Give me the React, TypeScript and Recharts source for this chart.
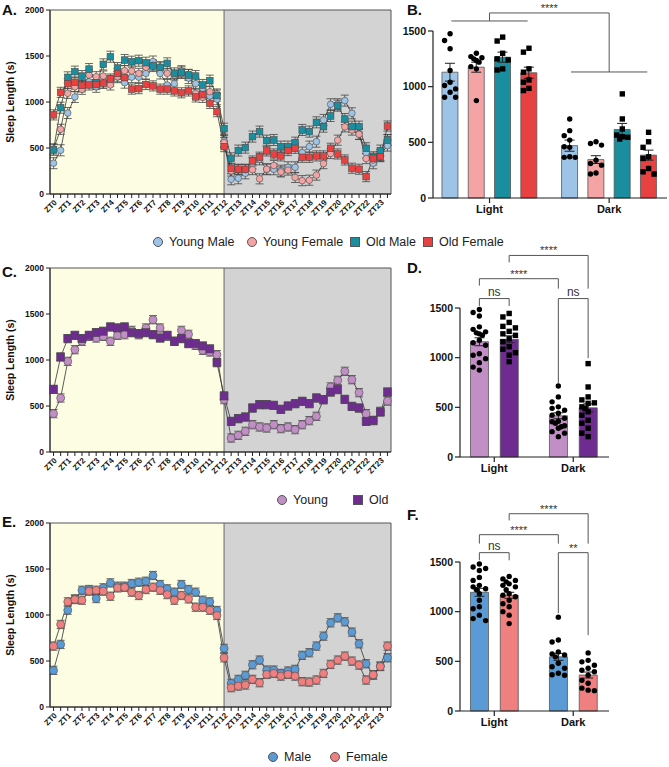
import React from 'react';
import {
  ComposedChart,
  Line,
  Bar,
  Scatter,
  Cell,
  XAxis,
  YAxis,
  ErrorBar,
  ReferenceArea,
  ReferenceLine,
} from 'recharts';

type Kind = 'circle' | 'square';

// ---- time axis (half-hour bins) ----
const ztLabels = [
  'ZT0', 'ZT1', 'ZT2', 'ZT3', 'ZT4', 'ZT5', 'ZT6', 'ZT7', 'ZT8', 'ZT9', 'ZT10', 'ZT11',
  'ZT12', 'ZT13', 'ZT14', 'ZT15', 'ZT16', 'ZT17', 'ZT18', 'ZT19', 'ZT20', 'ZT21', 'ZT22', 'ZT23',
];
const ztHours = [
  0, 0.5, 1, 1.5, 2, 2.5, 3, 3.5, 4, 4.5, 5, 5.5, 6, 6.5, 7, 7.5, 8, 8.5, 9, 9.5, 10, 10.5, 11, 11.5,
  12, 12.5, 13, 13.5, 14, 14.5, 15, 15.5, 16, 16.5, 17, 17.5, 18, 18.5, 19, 19.5, 20, 20.5, 21, 21.5,
  22, 22.5, 23, 23.5,
];
const phaseLabels = ['Light', 'Dark'];

// ---- panel A: sleep length per bin (s) ----
const youngMaleA = [
  335, 475, 880, 1055, 1170, 1220, 1165, 1210, 1230, 1270, 1210, 1270, 1270, 1310, 1440, 1310, 1185, 1200, 1335, 1260, 1200, 1150, 1065, 1030,
  577, 160, 171, 225, 334, 377, 269, 269, 254, 290, 290, 450, 515, 569, 805, 975, 975, 1015, 877, 653, 450, 334, 425, 526,
];
const youngFemaleA = [
  490, 703, 1094, 1166, 1138, 1293, 1275, 1282, 1185, 1275, 1340, 1337, 1311, 1376, 1400, 1380, 1311, 1293, 1311, 1300, 1094, 1050, 1112, 1087,
  560, 250, 265, 265, 265, 165, 270, 310, 240, 260, 180, 145, 150, 205, 330, 440, 585, 730, 695, 650, 385, 370, 410, 590,
];
const oldMaleA = [
  480, 938, 1268, 1330, 1282, 1358, 1210, 1409, 1492, 1369, 1456, 1438, 1449, 1427, 1391, 1376, 1420, 1311, 1322, 1293, 1282, 1185, 1232, 1070,
  710, 388, 472, 504, 624, 678, 580, 587, 515, 515, 558, 696, 678, 779, 732, 848, 960, 815, 732, 732, 497, 399, 472, 587,
];
const oldFemaleA = [
  860, 1105, 1200, 1215, 1180, 1185, 1190, 1205, 1250, 1310, 1265, 1140, 1145, 1190, 1175, 1140, 1140, 1120, 1100, 1120, 1055, 1080, 985, 895,
  515, 280, 269, 269, 359, 400, 468, 435, 414, 472, 497, 399, 399, 414, 414, 497, 435, 370, 280, 269, 189, 388, 406, 739,
];

// ---- panel C ----
const youngC = [
  417, 587, 985, 1112, 1203, 1257, 1239, 1257, 1203, 1268, 1275, 1322, 1275, 1348, 1438, 1348, 1257, 1203, 1322, 1279, 1159, 1105, 1087, 1058,
  569, 152, 181, 225, 297, 272, 261, 297, 254, 272, 243, 297, 341, 388, 569, 707, 779, 877, 786, 645, 417, 341, 442, 554,
];
const oldC = [
  681, 1033, 1232, 1268, 1232, 1268, 1297, 1312, 1359, 1348, 1359, 1297, 1286, 1297, 1275, 1239, 1268, 1203, 1232, 1178, 1178, 1152, 1120, 971,
  609, 333, 362, 380, 478, 514, 514, 507, 464, 500, 525, 551, 525, 587, 569, 652, 678, 572, 496, 478, 333, 344, 435, 652,
];

// ---- panel E ----
const maleE = [
  398, 680, 1052, 1175, 1269, 1277, 1179, 1295, 1349, 1313, 1313, 1342, 1356, 1367, 1429, 1331, 1284, 1248, 1331, 1277, 1248, 1161, 1143, 1049,
  637, 257, 300, 344, 459, 510, 401, 401, 365, 391, 409, 561, 590, 662, 770, 915, 969, 926, 814, 687, 470, 347, 445, 535,
];
const femaleE = [
  662, 897, 1143, 1168, 1161, 1259, 1269, 1259, 1204, 1295, 1300, 1248, 1212, 1277, 1302, 1269, 1222, 1161, 1212, 1175, 1085, 1085, 1052, 995,
  535, 210, 228, 239, 300, 264, 354, 365, 336, 354, 336, 275, 271, 293, 365, 463, 510, 553, 499, 456, 293, 350, 440, 662,
];

// ---- panel B: phase totals ----
const bMeansLight = [1130, 1175, 1265, 1125];
const bMeansDark = [470, 345, 615, 385];
const bSemLight = [80, 45, 45, 50];
const bSemDark = [50, 35, 55, 45];
const bDotsLight = [
  [1475, 1415, 1340, 1145, 1040, 1010, 980, 950, 905, 905],
  [1300, 1270, 1260, 1250, 1235, 1220, 1180, 1160, 875],
  [1445, 1410, 1300, 1250, 1240, 1160, 1150],
  [1345, 1310, 1160, 1130, 1060, 1040, 985, 965],
];
const bDotsDark = [
  [710, 605, 560, 520, 460, 455, 370, 365, 365],
  [505, 490, 475, 340, 310, 295, 225, 215],
  [935, 710, 620, 565, 550, 545, 530],
  [590, 505, 455, 370, 355, 265, 235, 215],
];

// ---- panel D ----
const dMeans = [1160, 1185, 415, 495];
const dSem = [40, 35, 30, 40];
const dDots = [
  [1485, 1455, 1420, 1310, 1285, 1260, 1250, 1240, 1225, 1175, 1150, 1125, 1040, 1025, 990, 950, 905, 875],
  [1445, 1410, 1355, 1315, 1300, 1265, 1240, 1225, 1190, 1160, 1110, 1085, 1050, 1025, 960],
  [715, 605, 555, 505, 490, 470, 440, 420, 390, 360, 355, 340, 315, 305, 290, 255, 240, 205],
  [940, 705, 605, 575, 545, 540, 505, 490, 455, 420, 370, 340, 290, 240, 205],
];

// ---- panel F ----
const fMeans = [1195, 1165, 545, 362];
const fSem = [40, 30, 35, 30];
const fDots = [
  [1480, 1450, 1435, 1415, 1345, 1315, 1265, 1250, 1230, 1220, 1180, 1115, 1050, 1030, 965, 930, 910],
  [1355, 1330, 1315, 1300, 1280, 1265, 1250, 1220, 1180, 1165, 1150, 1115, 1080, 1050, 1000, 965, 880],
  [945, 715, 695, 595, 575, 565, 545, 480, 445, 430, 380, 365, 360],
  [585, 510, 495, 460, 430, 410, 395, 360, 310, 280, 230, 210, 205],
];

const C = {
  youngMale: '#9dc3e6',
  youngFemale: '#f4a4a4',
  oldMale: '#1a8e9f',
  oldFemale: '#e84141',
  young: '#c28ec6',
  old: '#6e2c91',
  male: '#5b9bd5',
  female: '#f07f7f',
};

const FONT = '"Liberation Sans", Arial, Helvetica, sans-serif';

type Series = { key: string; values: number[]; color: string; kind: Kind; sem: number };

const marker = (color: string, kind: Kind, r: number) => (props: any) => {
  const { cx, cy, index } = props;
  if (cx == null || cy == null) return <g key={`m-${index}`} />;
  if (kind === 'circle') {
    return <circle key={`m-${index}`} cx={cx} cy={cy} r={r} fill={color} stroke="#4a4a4a" strokeWidth={0.6} />;
  }
  return (
    <rect key={`m-${index}`} x={cx - r} y={cy - r} width={2 * r} height={2 * r} fill={color} stroke="#4a4a4a" strokeWidth={0.6} />
  );
};

const renderZtTick = (props: any) => {
  const { x, y, payload } = props;
  const h = Number(payload.value);
  if (!Number.isInteger(h)) return <g />;
  const ax = x + 2;
  const ay = y + 1;
  return (
    <text
      x={ax}
      y={ay}
      transform={`rotate(-45 ${ax} ${ay})`}
      textAnchor="end"
      dy="0.35em"
      fontSize={8}
      fontWeight={700}
      fill="#111"
    >
      {ztLabels[h]}
    </text>
  );
};

function TimeCourse({ series, r }: { series: Series[]; r: number }) {
  const rows = ztHours.map((h, i) => {
    const row: Record<string, number> = { h };
    series.forEach(s => {
      row[s.key] = s.values[i];
      row[`${s.key}Err`] = s.sem;
    });
    return row;
  });
  return (
    <ComposedChart width={400} height={230} data={rows} margin={{ top: 10, right: 9, bottom: 6, left: 4 }}>
      <ReferenceArea x1={-0.25} x2={12} y1={0} y2={2000} fill="#fdfde3" fillOpacity={1} stroke="none" />
      <ReferenceArea x1={12} x2={23.75} y1={0} y2={2000} fill="#d3d3d3" fillOpacity={1} stroke="none" />
      <ReferenceLine x={12} stroke="#666" strokeWidth={1} />
      <ReferenceArea x1={-0.25} x2={23.75} y1={0} y2={2000} fill="none" fillOpacity={0} stroke="#555" strokeWidth={1} />
      <XAxis
        type="number"
        dataKey="h"
        domain={[-0.25, 23.75]}
        ticks={ztHours}
        interval={0}
        tick={renderZtTick}
        tickSize={4}
        height={30}
        stroke="#222"
      />
      <YAxis
        domain={[0, 2000]}
        ticks={[0, 500, 1000, 1500, 2000]}
        width={46}
        tickSize={4}
        stroke="#222"
        tick={{ fontSize: 8.5, fontWeight: 700, fill: '#111' }}
        label={{
          value: 'Sleep Length (s)',
          angle: -90,
          position: 'insideLeft',
          offset: 6,
          style: { textAnchor: 'middle', fontSize: 10.5, fontWeight: 700, fill: '#111' },
        }}
      />
      {series.map(s => (
        <Line
          key={s.key}
          dataKey={s.key}
          stroke="#333"
          strokeWidth={0.8}
          dot={marker(s.color, s.kind, r)}
          activeDot={false}
          isAnimationActive={false}
        >
          <ErrorBar dataKey={`${s.key}Err`} direction="y" width={4} stroke="#444" strokeWidth={0.8} />
        </Line>
      ))}
    </ComposedChart>
  );
}

type BarSpec = { fill: string; mean: number; sem: number; dots: number[]; kind: Kind };
type Bracket = { x1: number; x2: number; y: number; drop1: number; drop2: number; text?: string };

// spread dots with close values side by side
function swarm(values: number[], center: number, near: number) {
  const slots = [0, -0.21, 0.21, -0.1, 0.1];
  const placed: { x: number; y: number }[] = [];
  values.forEach(v => {
    const used = placed.filter(p => Math.abs(p.y - v) < near).map(p => p.x - center);
    const s = slots.find(o => !used.some(u => Math.abs(u - o) < 0.001));
    placed.push({ x: center + (s ?? 0), y: v });
  });
  return placed;
}

function GroupedBars({
  specs,
  positions,
  xMax,
  groupCenters,
  brackets,
  height,
  margin,
  yAxisWidth,
  barSize,
  dotR,
}: {
  specs: BarSpec[];
  positions: number[];
  xMax: number;
  groupCenters: number[];
  brackets: Bracket[];
  height: number;
  margin: { top: number; right: number; bottom: number; left: number };
  yAxisWidth: number;
  barSize: number;
  dotR: number;
}) {
  const rows = specs.map((s, i) => ({ x: positions[i], y: s.mean, sem: s.sem }));
  const line = { xAxisId: 'bars', stroke: '#555', strokeWidth: 1, ifOverflow: 'visible' as const };
  return (
    <ComposedChart width={269} height={height} data={rows} margin={margin}>
      <XAxis
        xAxisId="bars"
        type="number"
        dataKey="x"
        domain={[0, xMax]}
        ticks={groupCenters}
        interval={0}
        tickFormatter={(v: number) => phaseLabels[groupCenters.indexOf(v)] ?? ''}
        tickSize={5}
        height={25}
        stroke="#222"
        strokeWidth={1.2}
        tick={{ fontSize: 11, fontWeight: 700, fill: '#111' }}
      />
      <XAxis xAxisId="dots" type="number" dataKey="x" domain={[0, xMax]} hide />
      <YAxis
        dataKey="y"
        domain={[0, 1500]}
        ticks={[0, 500, 1000, 1500]}
        width={yAxisWidth}
        tickSize={5}
        stroke="#222"
        strokeWidth={1.2}
        tick={{ fontSize: 10.5, fontWeight: 700, fill: '#111' }}
      />
      <Bar xAxisId="bars" dataKey="y" barSize={barSize} stroke="#555" strokeWidth={0.8} isAnimationActive={false}>
        {specs.map((s, i) => (
          <Cell key={i} fill={s.fill} />
        ))}
        <ErrorBar dataKey="sem" direction="y" width={5} stroke="#222" strokeWidth={1} />
      </Bar>
      {specs.map((s, i) => (
        <Scatter
          key={`dots-${i}`}
          xAxisId="dots"
          data={swarm(s.dots, positions[i], 62)}
          isAnimationActive={false}
          shape={(p: any) =>
            s.kind === 'circle' ? (
              <circle cx={p.cx} cy={p.cy} r={dotR} fill="#000" />
            ) : (
              <rect x={p.cx - dotR} y={p.cy - dotR} width={2 * dotR} height={2 * dotR} fill="#000" />
            )
          }
        />
      ))}
      {brackets.flatMap((b, k) => {
        const items = [
          <ReferenceLine
            key={`h${k}`}
            segment={[
              { x: b.x1, y: b.y },
              { x: b.x2, y: b.y },
            ]}
            {...line}
            label={
              b.text
                ? {
                    value: b.text,
                    position: 'top',
                    offset: b.text === 'ns' ? 3 : 1,
                    fontSize: b.text === 'ns' ? 12 : 11,
                    fill: '#333',
                  }
                : undefined
            }
          />,
        ];
        if (b.drop1 !== b.y) {
          items.push(
            <ReferenceLine key={`l${k}`} segment={[{ x: b.x1, y: b.y }, { x: b.x1, y: b.drop1 }]} {...line} />,
          );
        }
        if (b.drop2 !== b.y) {
          items.push(
            <ReferenceLine key={`r${k}`} segment={[{ x: b.x2, y: b.y }, { x: b.x2, y: b.drop2 }]} {...line} />,
          );
        }
        return items;
      })}
    </ComposedChart>
  );
}

function LegendRow({ top, items }: { top: number; items: { left: number; color: string; kind: Kind; label: string }[] }) {
  return (
    <>
      {items.map(it => (
        <React.Fragment key={it.label}>
          <div
            style={{
              position: 'absolute',
              left: it.left - 5,
              top: top - 5,
              width: 10,
              height: 10,
              boxSizing: 'border-box',
              background: it.color,
              border: '0.8px solid #555',
              borderRadius: it.kind === 'circle' ? '50%' : 0,
            }}
          />
          <div
            style={{
              position: 'absolute',
              left: it.left + 11,
              top: top - 8,
              lineHeight: '16px',
              fontSize: 12.5,
              color: '#222',
              whiteSpace: 'nowrap',
            }}
          >
            {it.label}
          </div>
        </React.Fragment>
      ))}
    </>
  );
}

const PanelLabel = ({ text, left, top }: { text: string; left: number; top: number }) => (
  <div style={{ position: 'absolute', left, top, fontSize: 15, lineHeight: '15px', fontWeight: 700, color: '#111' }}>
    {text}
  </div>
);

const seriesA: Series[] = [
  { key: 'ym', values: youngMaleA, color: C.youngMale, kind: 'circle', sem: 60 },
  { key: 'yf', values: youngFemaleA, color: C.youngFemale, kind: 'circle', sem: 55 },
  { key: 'om', values: oldMaleA, color: C.oldMale, kind: 'square', sem: 60 },
  { key: 'of', values: oldFemaleA, color: C.oldFemale, kind: 'square', sem: 55 },
];
const seriesC: Series[] = [
  { key: 'young', values: youngC, color: C.young, kind: 'circle', sem: 45 },
  { key: 'old', values: oldC, color: C.old, kind: 'square', sem: 45 },
];
const seriesE: Series[] = [
  { key: 'male', values: maleE, color: C.male, kind: 'circle', sem: 45 },
  { key: 'female', values: femaleE, color: C.female, kind: 'circle', sem: 45 },
];

const bColors = [C.youngMale, C.youngFemale, C.oldMale, C.oldFemale];
const bKinds: Kind[] = ['circle', 'circle', 'square', 'square'];
const specsB: BarSpec[] = [
  ...bMeansLight.map((m, i) => ({ fill: bColors[i], mean: m, sem: bSemLight[i], dots: bDotsLight[i], kind: bKinds[i] })),
  ...bMeansDark.map((m, i) => ({ fill: bColors[i], mean: m, sem: bSemDark[i], dots: bDotsDark[i], kind: bKinds[i] })),
];
const specsD: BarSpec[] = dMeans.map((m, i) => ({
  fill: i % 2 === 0 ? C.young : C.old,
  mean: m,
  sem: dSem[i],
  dots: dDots[i],
  kind: i % 2 === 0 ? 'circle' : 'square',
}));
const specsF: BarSpec[] = fMeans.map((m, i) => ({
  fill: i % 2 === 0 ? C.male : C.female,
  mean: m,
  sem: fSem[i],
  dots: fDots[i],
  kind: 'circle',
}));

const posB = [0.65, 1.65, 2.65, 3.65, 5.2, 6.2, 7.2, 8.2];
const posPair = [0.65, 1.65, 3.3, 4.3];

const bracketsB: Bracket[] = [
  { x1: 0.7, x2: 3.6, y: 1590, drop1: 1590, drop2: 1590 },
  { x1: 5.25, x2: 8.15, y: 1132, drop1: 1132, drop2: 1132 },
  { x1: 2.15, x2: 6.7, y: 1662, drop1: 1590, drop2: 1132, text: '****' },
];
const bracketsD: Bracket[] = [
  { x1: 0.65, x2: 1.65, y: 1595, drop1: 1520, drop2: 1520, text: 'ns' },
  { x1: 3.3, x2: 4.3, y: 1595, drop1: 743, drop2: 995, text: 'ns' },
  { x1: 0.65, x2: 3.3, y: 1795, drop1: 1725, drop2: 1695, text: '****' },
  { x1: 1.65, x2: 4.3, y: 2029, drop1: 1959, drop2: 1695, text: '****' },
];
const bracketsF: Bracket[] = [
  { x1: 0.65, x2: 1.65, y: 1594, drop1: 1517, drop2: 1517, text: 'ns' },
  { x1: 3.3, x2: 4.3, y: 1594, drop1: 985, drop2: 764, text: '**' },
  { x1: 0.65, x2: 3.3, y: 1775, drop1: 1685, drop2: 1685, text: '****' },
  { x1: 1.65, x2: 4.3, y: 1986, drop1: 1919, drop2: 1685, text: '****' },
];

const at = (left: number, top: number): React.CSSProperties => ({ position: 'absolute', left, top });

export default function App() {
  return (
    <div
      style={{
        position: 'absolute',
        left: 0,
        top: 0,
        width: 669,
        height: 767,
        background: '#fff',
        fontFamily: FONT,
        overflow: 'hidden',
      }}
    >
      <div style={at(0, 0)}>
        <TimeCourse series={seriesA} r={3.3} />
      </div>
      <div style={at(0, 258)}>
        <TimeCourse series={seriesC} r={4} />
      </div>
      <div style={at(0, 513)}>
        <TimeCourse series={seriesE} r={4} />
      </div>

      <div style={at(400, 0)}>
        <GroupedBars
          specs={specsB}
          positions={posB}
          xMax={8.9}
          groupCenters={[2.15, 6.7]}
          brackets={bracketsB}
          height={230}
          margin={{ top: 31, right: 2, bottom: 7, left: 0 }}
          yAxisWidth={33}
          barSize={16}
          dotR={2.7}
        />
      </div>
      <div style={at(400, 240)}>
        <GroupedBars
          specs={specsD}
          positions={posPair}
          xMax={5}
          groupCenters={[1.15, 3.8]}
          brackets={bracketsD}
          height={250}
          margin={{ top: 68, right: 60, bottom: 8, left: 20 }}
          yAxisWidth={40}
          barSize={18}
          dotR={2.7}
        />
      </div>
      <div style={at(400, 494)}>
        <GroupedBars
          specs={specsF}
          positions={posPair}
          xMax={5}
          groupCenters={[1.15, 3.8]}
          brackets={bracketsF}
          height={250}
          margin={{ top: 68, right: 60, bottom: 8, left: 20 }}
          yAxisWidth={40}
          barSize={18}
          dotR={2.7}
        />
      </div>

      <LegendRow
        top={242}
        items={[
          { left: 158, color: C.youngMale, kind: 'circle', label: 'Young Male' },
          { left: 252, color: C.youngFemale, kind: 'circle', label: 'Young Female' },
          { left: 355, color: C.oldMale, kind: 'square', label: 'Old Male' },
          { left: 428, color: C.oldFemale, kind: 'square', label: 'Old Female' },
        ]}
      />
      <LegendRow
        top={500}
        items={[
          { left: 282, color: C.young, kind: 'circle', label: 'Young' },
          { left: 358, color: C.old, kind: 'square', label: 'Old' },
        ]}
      />
      <LegendRow
        top={757}
        items={[
          { left: 273, color: C.male, kind: 'circle', label: 'Male' },
          { left: 335, color: C.female, kind: 'circle', label: 'Female' },
        ]}
      />

      <PanelLabel text="A." left={2} top={2} />
      <PanelLabel text="B." left={407} top={2} />
      <PanelLabel text="C." left={2} top={264} />
      <PanelLabel text="D." left={407} top={260} />
      <PanelLabel text="E." left={2} top={514} />
      <PanelLabel text="F." left={407} top={507} />
    </div>
  );
}
